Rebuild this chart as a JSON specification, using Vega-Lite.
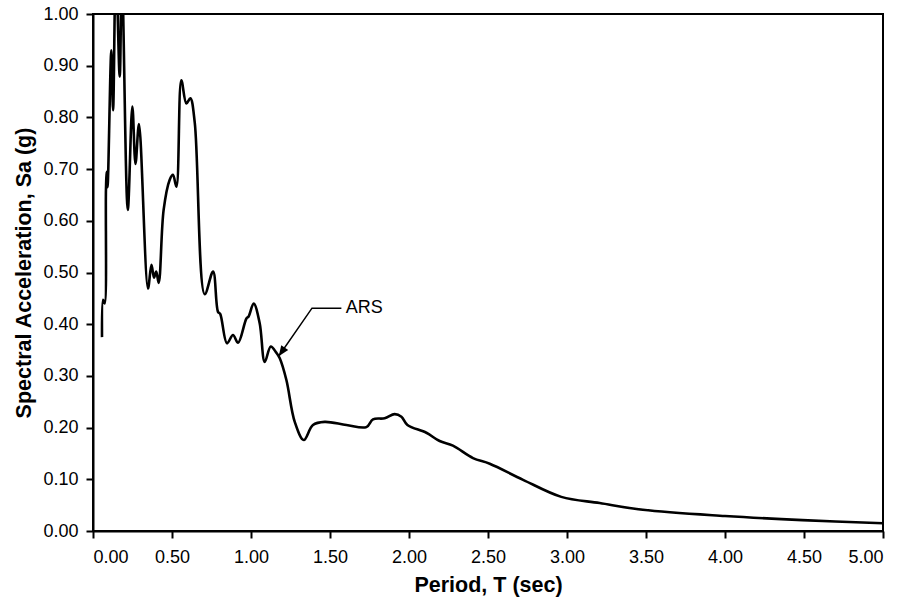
{
  "$schema": "https://vega.github.io/schema/vega-lite/v6.json",
  "width": 790,
  "height": 517,
  "autosize": "none",
  "padding": {"left": 93, "top": 14, "right": 20, "bottom": 69},
  "background": "white",
  "config": {
    "view": {"stroke": "black", "strokeWidth": 2},
    "font": "Liberation Sans",
    "axis": {
      "grid": false,
      "domainColor": "black",
      "domainWidth": 2,
      "tickColor": "black",
      "tickWidth": 2,
      "tickSize": 7,
      "labelColor": "black",
      "labelFont": "Liberation Sans",
      "labelFontSize": 18,
      "titleFont": "Liberation Sans",
      "titleFontSize": 21.5,
      "titleFontWeight": "bold",
      "titleColor": "black"
    }
  },
  "datasets": {
    "ars": [
      {"period": 0.057, "sa": 0.375},
      {"period": 0.064, "sa": 0.447},
      {"period": 0.074, "sa": 0.440},
      {"period": 0.082, "sa": 0.660},
      {"period": 0.087, "sa": 0.695},
      {"period": 0.092, "sa": 0.665},
      {"period": 0.116, "sa": 0.930},
      {"period": 0.127, "sa": 0.814},
      {"period": 0.145, "sa": 1.100},
      {"period": 0.169, "sa": 0.879},
      {"period": 0.183, "sa": 1.080},
      {"period": 0.220, "sa": 0.621},
      {"period": 0.249, "sa": 0.821},
      {"period": 0.269, "sa": 0.710},
      {"period": 0.291, "sa": 0.787},
      {"period": 0.348, "sa": 0.469},
      {"period": 0.370, "sa": 0.515},
      {"period": 0.386, "sa": 0.490},
      {"period": 0.400, "sa": 0.502},
      {"period": 0.416, "sa": 0.480},
      {"period": 0.447, "sa": 0.621},
      {"period": 0.485, "sa": 0.679},
      {"period": 0.506, "sa": 0.689},
      {"period": 0.528, "sa": 0.666},
      {"period": 0.559, "sa": 0.872},
      {"period": 0.591, "sa": 0.827},
      {"period": 0.616, "sa": 0.837},
      {"period": 0.644, "sa": 0.790},
      {"period": 0.707, "sa": 0.458},
      {"period": 0.760, "sa": 0.502},
      {"period": 0.791, "sa": 0.424},
      {"period": 0.805, "sa": 0.420},
      {"period": 0.848, "sa": 0.363},
      {"period": 0.886, "sa": 0.379},
      {"period": 0.918, "sa": 0.364},
      {"period": 0.971, "sa": 0.411},
      {"period": 0.985, "sa": 0.415},
      {"period": 1.017, "sa": 0.440},
      {"period": 1.055, "sa": 0.402},
      {"period": 1.087, "sa": 0.327},
      {"period": 1.125, "sa": 0.357},
      {"period": 1.160, "sa": 0.345},
      {"period": 1.182, "sa": 0.334},
      {"period": 1.224, "sa": 0.292},
      {"period": 1.277, "sa": 0.211},
      {"period": 1.334, "sa": 0.176},
      {"period": 1.392, "sa": 0.205},
      {"period": 1.466, "sa": 0.211},
      {"period": 1.604, "sa": 0.205},
      {"period": 1.730, "sa": 0.201},
      {"period": 1.772, "sa": 0.216},
      {"period": 1.846, "sa": 0.218},
      {"period": 1.909, "sa": 0.226},
      {"period": 1.952, "sa": 0.221},
      {"period": 1.990, "sa": 0.205},
      {"period": 2.110, "sa": 0.190},
      {"period": 2.194, "sa": 0.174},
      {"period": 2.278, "sa": 0.165},
      {"period": 2.405, "sa": 0.141},
      {"period": 2.511, "sa": 0.130},
      {"period": 2.722, "sa": 0.099},
      {"period": 2.964, "sa": 0.066},
      {"period": 3.207, "sa": 0.054},
      {"period": 3.480, "sa": 0.041},
      {"period": 4.000, "sa": 0.029},
      {"period": 4.490, "sa": 0.021},
      {"period": 5.000, "sa": 0.015}
    ],
    "leader": [
      {"period": 1.175, "sa": 0.338, "step": 1},
      {"period": 1.386, "sa": 0.431, "step": 2},
      {"period": 1.572, "sa": 0.431, "step": 3}
    ],
    "tip": [
      {"period": 1.175, "sa": 0.338}
    ],
    "label": [
      {"period": 1.600, "sa": 0.431, "text": "ARS"}
    ]
  },
  "layer": [
    {
      "data": {"name": "ars"},
      "mark": {"type": "line", "interpolate": "catmull-rom", "color": "black", "strokeWidth": 2.6, "clip": true},
      "encoding": {
        "x": {
          "field": "period", "type": "quantitative",
          "scale": {"domain": [0, 5], "nice": false},
          "axis": {"values": [0, 0.5, 1, 1.5, 2, 2.5, 3, 3.5, 4, 4.5, 5], "format": ".2f", "title": "Period, T (sec)", "labelPadding": 10, "titlePadding": 8}
        },
        "y": {
          "field": "sa", "type": "quantitative",
          "scale": {"domain": [0, 1], "nice": false},
          "axis": {"values": [0, 0.1, 0.2, 0.3, 0.4, 0.5, 0.6, 0.7, 0.8, 0.9, 1.0], "format": ".2f", "title": "Spectral Acceleration, Sa (g)", "labelPadding": 8, "titlePadding": 7}
        }
      }
    },
    {
      "data": {"name": "leader"},
      "mark": {"type": "line", "color": "black", "strokeWidth": 1.5},
      "encoding": {
        "x": {"field": "period", "type": "quantitative"},
        "y": {"field": "sa", "type": "quantitative"},
        "order": {"field": "step", "type": "quantitative"}
      }
    },
    {
      "data": {"name": "tip"},
      "mark": {"type": "point", "shape": "M0,0L-1,2.5L1,2.5Z", "filled": true, "color": "black", "opacity": 1, "size": 72, "angle": 215},
      "encoding": {
        "x": {"field": "period", "type": "quantitative"},
        "y": {"field": "sa", "type": "quantitative"}
      }
    },
    {
      "data": {"name": "label"},
      "mark": {"type": "text", "align": "left", "baseline": "middle", "fontSize": 18, "color": "black", "font": "Liberation Sans"},
      "encoding": {
        "x": {"field": "period", "type": "quantitative"},
        "y": {"field": "sa", "type": "quantitative"},
        "text": {"field": "text"}
      }
    }
  ]
}
